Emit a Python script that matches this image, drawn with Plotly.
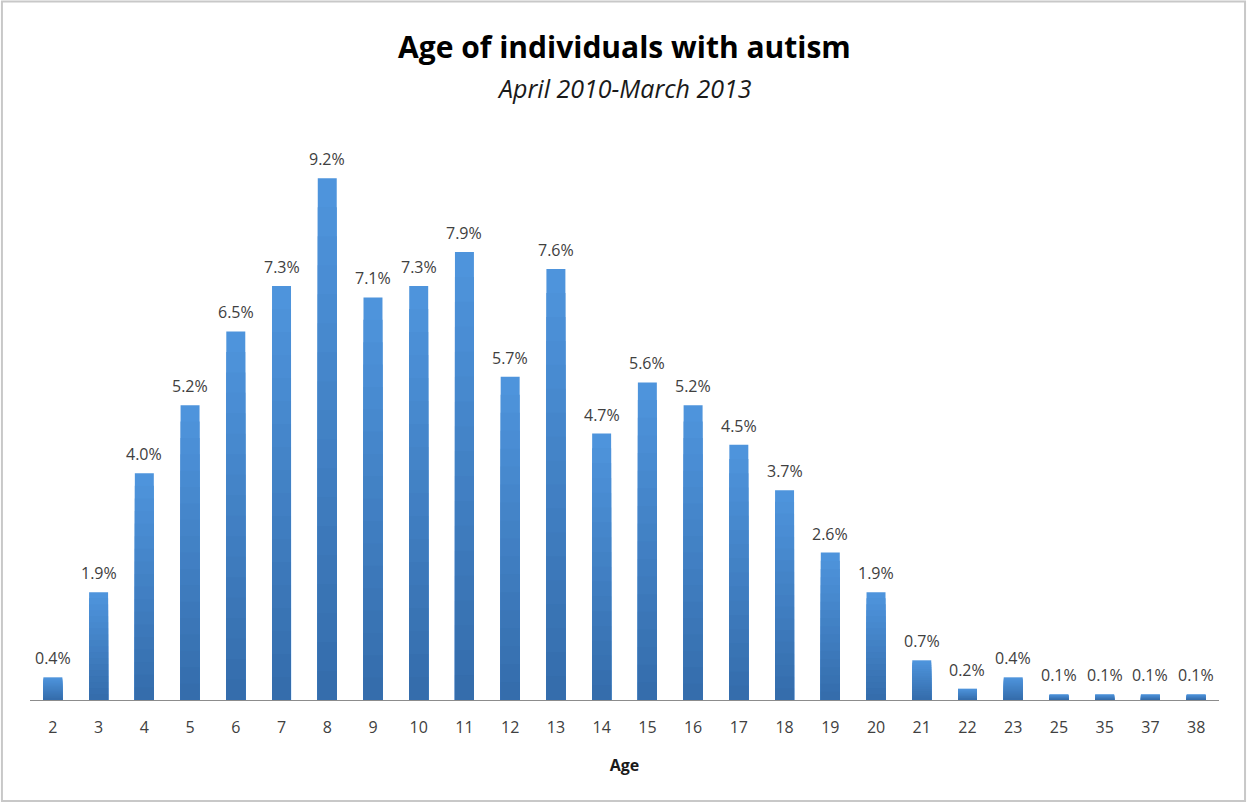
import plotly.graph_objects as go

# Age categories (24 absent in the source data) and share of individuals (%)
ages = ["2", "3", "4", "5", "6", "7", "8", "9", "10", "11", "12", "13", "14",
        "15", "16", "17", "18", "19", "20", "21", "22", "23", "25", "35", "37", "38"]
shares = [0.4, 1.9, 4.0, 5.2, 6.5, 7.3, 9.2, 7.1, 7.3, 7.9, 5.7, 7.6, 4.7,
          5.6, 5.2, 4.5, 3.7, 2.6, 1.9, 0.7, 0.2, 0.4, 0.1, 0.1, 0.1, 0.1]

title_text = "Age of individuals with autism"
subtitle_text = "April 2010-March 2013"
axis_title = "Age"

FONT = "'Open Sans', Lato, sans-serif"
TOP_RGB = (0x4E, 0x94, 0xDC)
BOTTOM_RGB = (0x35, 0x6D, 0xAC)
LAYERS = 18

PLOT_H = 567  # pixel height of the plotting area
AXIS_Y = 700  # pixel row of the baseline


def paper_y(py):
    return (AXIS_Y - py) / PLOT_H


fig = go.Figure()

# Vertical gradient per bar: stacked overlays of shrinking height, darkening downward
for k in range(LAYERS):
    t = k / (LAYERS - 1)
    r, g, b = (round(TOP_RGB[i] + (BOTTOM_RGB[i] - TOP_RGB[i]) * t) for i in range(3))
    frac = (LAYERS - k) / LAYERS
    fig.add_trace(go.Bar(
        x=ages,
        y=[v * frac for v in shares],
        marker=dict(color=f"rgb({r},{g},{b})", line=dict(width=0)),
        hoverinfo="skip" if k else "x+y",
        showlegend=False,
    ))

# Percentage labels above each bar (positioned by category index)
for i, v in enumerate(shares):
    fig.add_annotation(
        x=i, y=v, text=f"{v:.1f}%", showarrow=False,
        yanchor="bottom", yshift=6,
        font=dict(family=FONT, size=16, color="#404040"),
    )

# Chart title and subtitle
fig.add_annotation(
    text=f"<b>{title_text}</b>", xref="paper", yref="paper",
    x=0.5, y=paper_y(47), yanchor="middle", showarrow=False,
    font=dict(family=FONT, size=30, color="#000000"),
)
fig.add_annotation(
    text=f"<i>{subtitle_text}</i>", xref="paper", yref="paper",
    x=0.5, y=paper_y(88), yanchor="middle", showarrow=False,
    font=dict(family=FONT, size=25, color="#1a1a1a"),
)

# Outer chart frame
fig.add_shape(
    type="rect", xref="paper", yref="paper",
    x0=-0.0236, x1=1.0219, y0=paper_y(801), y1=paper_y(1.5),
    line=dict(color="#c8c8c8", width=2), fillcolor="rgba(0,0,0,0)", layer="below",
)

fig.update_layout(
    width=1247, height=803,
    margin=dict(l=30, r=28, t=AXIS_Y - PLOT_H, b=803 - AXIS_Y),
    paper_bgcolor="white", plot_bgcolor="white",
    barmode="overlay", bargap=0.585,
    font=dict(family=FONT, size=16, color="#404040"),
    xaxis=dict(
        type="category", range=[-0.5, len(ages) - 0.5],
        showgrid=False, zeroline=False,
        showline=True, linecolor="#8c8c8c", linewidth=1,
        ticks="outside", ticklen=13, tickcolor="rgba(0,0,0,0)",
        tickfont=dict(family=FONT, size=16, color="#404040"),
        title=dict(text=f"<b>{axis_title}</b>", standoff=22,
                   font=dict(family=FONT, size=16, color="#1a1a1a")),
        fixedrange=True,
    ),
    yaxis=dict(range=[0, 10], visible=False, fixedrange=True),
)

fig.write_html("out.html")
